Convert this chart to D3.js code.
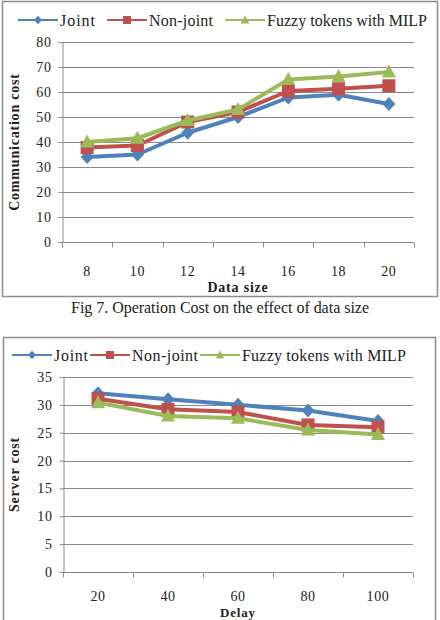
<!DOCTYPE html>
<html>
<head>
<meta charset="utf-8">
<script src="https://cdn.jsdelivr.net/npm/d3@7"></script>
<style>
  body { margin: 0; background: #fff; }
  svg { display: block; }
  text { font-family: "Liberation Serif", "Times New Roman", serif; fill: #222; }
</style>
</head>
<body>
<svg id="chart" width="440" height="620"></svg>
<script>
"use strict";

var seriesNames = ["Joint", "Non-joint", "Fuzzy tokens with MILP"];
var seriesColors = ["#4f81bd", "#c0504d", "#9bbb59"];

// Fig 7: communication cost vs data size
var dataSizes = [8, 10, 12, 14, 16, 18, 20];
var commJoint = [34, 35, 43.7, 50, 57.8, 58.9, 55.2];
var commNonJoint = [37.8, 38.6, 48, 52, 60.4, 61.3, 62.5];
var commFuzzy = [40, 41.5, 48.6, 53, 65, 66.2, 68];
var commTicks = [0, 10, 20, 30, 40, 50, 60, 70, 80];

// Fig 8: server cost vs delay
var delays = [20, 40, 60, 80, 100];
var serverJoint = [32.1, 31, 30, 29, 27.1];
var serverNonJoint = [31.1, 29.2, 28.7, 26.4, 26];
var serverFuzzy = [30.4, 28, 27.6, 25.5, 24.7];
var serverTicks = [0, 5, 10, 15, 20, 25, 30, 35];

var svg = d3.select("#chart");

function drawChart(cfg) {
  var g = svg.append("g");

  // outer frame
  g.append("rect")
    .attr("x", cfg.frame[0] + 0.5).attr("y", cfg.frame[1] + 0.5)
    .attr("width", cfg.frame[2]).attr("height", cfg.frame[3])
    .attr("fill", "none").attr("stroke", "#8c8c8c").attr("stroke-width", 1.5);

  var x = d3.scaleBand().domain(cfg.categories).range([cfg.left, cfg.right]);
  var y = d3.scaleLinear().domain([0, d3.max(cfg.ticks)]).range([cfg.bottom, cfg.top]);

  // gridlines
  g.append("g").selectAll("line").data(cfg.ticks.slice(1)).enter().append("line")
    .attr("x1", cfg.left).attr("x2", cfg.right)
    .attr("y1", function (d) { return Math.round(y(d)) + 0.5; })
    .attr("y2", function (d) { return Math.round(y(d)) + 0.5; })
    .attr("stroke", "#8a8a8a").attr("stroke-width", 1);

  // y axis
  var yAxis = g.append("g")
    .attr("transform", "translate(" + (cfg.left + 0.5) + ",0)")
    .call(d3.axisLeft(y).tickValues(cfg.ticks).tickSize(4).tickPadding(7));
  yAxis.select(".domain").attr("stroke", "#8a8a8a");
  yAxis.selectAll(".tick line").attr("stroke", "#8a8a8a");
  yAxis.selectAll(".tick text")
    .attr("font-family", "Liberation Serif").attr("font-size", 14)
    .attr("letter-spacing", 0.6).attr("fill", "#333");

  // x axis with boundary ticks
  var xAxis = g.append("g")
    .attr("transform", "translate(0," + (Math.round(cfg.bottom) + 0.5) + ")");
  xAxis.append("line")
    .attr("x1", cfg.left).attr("x2", cfg.right)
    .attr("stroke", "#8a8a8a");
  var bounds = cfg.categories.map(function (c) { return x(c); }).concat([cfg.right]);
  xAxis.selectAll("line.bound").data(bounds).enter().append("line")
    .attr("class", "bound")
    .attr("x1", function (d) { return Math.round(d) + 0.5; })
    .attr("x2", function (d) { return Math.round(d) + 0.5; })
    .attr("y1", 0).attr("y2", 5)
    .attr("stroke", "#8a8a8a");
  xAxis.selectAll("text").data(cfg.categories).enter().append("text")
    .attr("x", function (d) { return x(d) + x.bandwidth() / 2; })
    .attr("y", cfg.tickLabelY - cfg.bottom)
    .attr("text-anchor", "middle")
    .attr("font-size", 14).attr("letter-spacing", 0.6).attr("fill", "#333")
    .text(function (d) { return d; });

  // axis titles
  g.append("text")
    .attr("x", (cfg.left + cfg.right) / 2).attr("y", cfg.xTitleY)
    .attr("text-anchor", "middle").attr("font-weight", "bold")
    .attr("font-size", cfg.xTitleSize).attr("letter-spacing", 0.8)
    .text(cfg.xTitle);
  g.append("text")
    .attr("transform", "translate(" + cfg.yTitleX + "," + ((cfg.top + cfg.bottom) / 2) + ") rotate(-90)")
    .attr("text-anchor", "middle").attr("font-weight", "bold")
    .attr("font-size", 14).attr("letter-spacing", 0.8)
    .text(cfg.yTitle);

  // series
  var line = d3.line()
    .x(function (d, i) { return x(cfg.categories[i]) + x.bandwidth() / 2; })
    .y(function (d) { return y(d); });

  cfg.series.forEach(function (values, s) {
    g.append("path")
      .attr("d", line(values))
      .attr("fill", "none")
      .attr("stroke", seriesColors[s])
      .attr("stroke-width", 4)
      .attr("stroke-linejoin", "round");
    g.append("g").selectAll("path").data(values).enter().append("path")
      .attr("transform", function (d, i) {
        return "translate(" + (x(cfg.categories[i]) + x.bandwidth() / 2) + "," + y(d) + ")";
      })
      .attr("d", markerPath(s, 1))
      .attr("fill", seriesColors[s]);
  });

  // legend
  var legend = g.append("g");
  cfg.legendX.forEach(function (lx, s) {
    legend.append("line")
      .attr("x1", lx).attr("x2", lx + 40)
      .attr("y1", cfg.legendY).attr("y2", cfg.legendY)
      .attr("stroke", seriesColors[s]).attr("stroke-width", 2);
    legend.append("path")
      .attr("transform", "translate(" + (lx + 20) + "," + cfg.legendY + ")")
      .attr("d", markerPath(s, 0.62))
      .attr("fill", seriesColors[s]);
    legend.append("text")
      .attr("x", lx + 42).attr("y", cfg.legendY + 6)
      .attr("font-size", 16)
      .attr("textLength", cfg.legendWidths[s])
      .attr("lengthAdjust", "spacing")
      .text(seriesNames[s]);
  });
}

// Excel-like markers: diamond, square, triangle
function markerPath(s, k) {
  var p = d3.path();
  if (s === 0) {
    p.moveTo(0, -7 * k); p.lineTo(6.5 * k, 0); p.lineTo(0, 7 * k); p.lineTo(-6.5 * k, 0);
  } else if (s === 1) {
    p.rect(-6.5 * k, -6.5 * k, 13 * k, 13 * k);
  } else {
    p.moveTo(0, -7.5 * k); p.lineTo(7 * k, 5.5 * k); p.lineTo(-7 * k, 5.5 * k);
  }
  p.closePath();
  return p.toString();
}

drawChart({
  frame: [2, 1, 435, 295],
  categories: dataSizes,
  series: [commJoint, commNonJoint, commFuzzy],
  ticks: commTicks,
  left: 62, right: 414, top: 42, bottom: 242,
  tickLabelY: 275, xTitleY: 292, xTitleSize: 14, xTitle: "Data size",
  yTitleX: 19, yTitle: "Communication cost",
  legendX: [18, 107, 225], legendY: 20, legendWidths: [35, 64, 160]
});

svg.append("text")
  .attr("x", 220).attr("y", 313)
  .attr("text-anchor", "middle")
  .attr("font-size", 16)
  .attr("textLength", 298).attr("lengthAdjust", "spacing")
  .text("Fig 7. Operation Cost on the effect of data size");

drawChart({
  frame: [3, 337, 432, 300],
  categories: delays,
  series: [serverJoint, serverNonJoint, serverFuzzy],
  ticks: serverTicks,
  left: 63, right: 413, top: 377, bottom: 572,
  tickLabelY: 600, xTitleY: 617, xTitleSize: 13, xTitle: "Delay",
  yTitleX: 19, yTitle: "Server cost",
  legendX: [12, 90, 200], legendY: 355, legendWidths: [34, 66, 164]
});
</script>
</body>
</html>
